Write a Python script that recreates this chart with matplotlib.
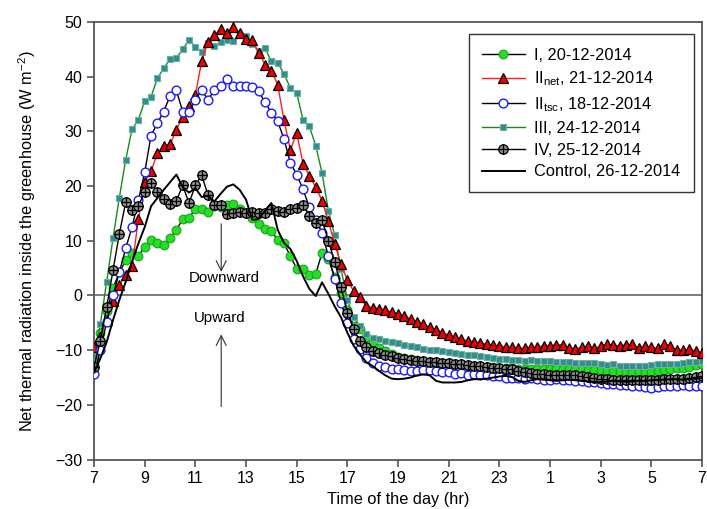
import numpy as np
import matplotlib
matplotlib.use("Agg")
import matplotlib.pyplot as plt
from matplotlib.path import Path

plt.rcParams['font.family'] = ['Liberation Sans', 'DejaVu Sans']
plt.rcParams['mathtext.fontset'] = 'custom'
plt.rcParams['mathtext.rm'] = 'Liberation Sans'

# time of day (hours, 7 .. 31 == 7 next morning), 15-min steps
time_hr = np.arange(7.0, 31.001, 0.25)

series_I = [-11.3, -6.8, -2.9, 1.4, 4.2, 6.4, 7.7, 7.2, 8.9, 10.2, 9.6, 9.2,
            10.5, 12.0, 13.9, 14.2, 15.8, 15.8, 15.3, 16.4, 16.2, 16.6, 16.8, 15.8,
            15.0, 14.1, 13.0, 12.1, 11.8, 10.1, 9.5, 7.2, 4.9, 4.9, 3.8, 3.9,
            7.8, 6.6, 3.4, 0.4, -2.6, -5.6, -6.2, -7.5, -8.5, -9.6, -10.2, -10.7,
            -11.2, -11.4, -11.6, -11.8, -12.0, -12.1, -12.2, -12.3, -12.5, -12.6, -12.7, -12.8,
            -12.9, -13.0, -13.1, -13.1, -13.2, -13.2, -13.3, -13.4, -13.4, -13.5, -13.5, -13.5,
            -13.5, -13.4, -13.4, -13.4, -13.4, -13.5, -13.6, -13.7, -13.7, -13.8, -13.8, -13.9,
            -14.0, -14.0, -14.0, -14.0, -13.9, -13.8, -13.7, -13.5, -13.3, -13.2, -13.0, -12.7,
            -12.5]

series_IInet = [-9.5, -7.5, -4.5, -1.0, 1.9, 3.8, 5.3, 13.9, 20.7, 22.7, 26.0, 27.3,
                27.6, 30.3, 32.7, 34.7, 36.7, 42.8, 46.4, 47.6, 48.7, 47.9, 49.0, 47.9,
                46.8, 46.6, 44.4, 42.2, 41.1, 38.5, 32.0, 26.6, 29.7, 24.1, 21.9, 19.8,
                17.3, 13.6, 9.4, 5.7, 2.8, 0.8, -0.2, -2.0, -2.2, -2.4, -2.7, -3.0,
                -3.4, -3.8, -4.3, -4.8, -5.3, -5.8, -6.3, -6.8, -7.2, -7.6, -8.0, -8.3,
                -8.5, -8.7, -8.9, -9.1, -9.2, -9.4, -9.5, -9.6, -9.6, -9.5, -9.4, -9.2,
                -9.2, -9.0, -9.0, -9.6, -9.7, -9.5, -9.3, -9.6, -9.3, -8.9, -9.1, -9.2,
                -9.0, -8.9, -9.6, -9.3, -9.5, -9.6, -8.8, -9.3, -9.9, -10.0, -9.8, -10.2,
                -10.5]

series_IItsc = [-14.4, -10.0, -4.8, 0.0, 4.3, 8.6, 12.5, 17.4, 22.5, 29.2, 31.5, 33.6,
                36.5, 37.5, 33.6, 33.6, 35.8, 37.5, 35.8, 37.5, 38.2, 39.5, 38.3, 38.2,
                38.2, 38.1, 37.3, 35.3, 33.4, 31.8, 28.6, 24.2, 22.1, 19.4, 16.1, 13.8,
                11.5, 7.2, 3.0, -1.3, -5.1, -7.9, -9.7, -11.4, -12.3, -12.8, -13.0, -13.4,
                -13.5, -13.7, -13.8, -13.8, -13.6, -13.6, -13.8, -14.0, -14.0, -14.3, -14.2, -14.5,
                -14.4, -14.5, -14.6, -14.7, -14.8, -15.0, -15.0, -15.1, -15.2, -15.1, -15.3, -15.4,
                -15.4, -15.3, -15.5, -15.5, -15.6, -15.7, -15.8, -15.8, -16.0, -16.1, -16.2, -16.3,
                -16.3, -16.5, -16.6, -16.8, -17.0, -16.8, -16.6, -16.5, -16.5, -16.4, -16.5, -16.6,
                -16.6]

series_III = [-11.0, -5.2, 2.5, 10.5, 17.9, 24.8, 30.4, 32.1, 35.5, 36.3, 39.7, 41.5,
              43.2, 43.4, 45.0, 46.7, 45.5, 44.5, 46.2, 45.6, 46.3, 46.6, 46.5, 47.6,
              47.4, 46.0, 44.6, 45.2, 42.8, 42.5, 40.5, 37.9, 37.0, 32.1, 30.9, 27.4,
              22.4, 15.5, 11.0, 4.8, -0.8, -4.0, -5.6, -7.1, -7.7, -8.0, -8.3, -8.5,
              -8.7, -9.0, -9.2, -9.4, -9.7, -9.9, -10.0, -10.2, -10.3, -10.5, -10.7, -10.8,
              -10.8, -11.0, -11.3, -11.5, -11.6, -11.6, -11.8, -11.8, -11.9, -11.8, -11.9, -12.0,
              -12.0, -12.1, -12.2, -12.2, -12.3, -12.3, -12.4, -12.4, -12.5, -12.7, -12.6, -12.8,
              -12.9, -12.8, -12.9, -12.8, -12.7, -12.6, -12.6, -12.6, -12.5, -12.4, -12.2, -12.1,
              -12.0]

series_IV = [-13.0, -8.3, -2.1, 4.6, 11.3, 17.0, 15.7, 16.3, 19.0, 20.6, 19.0, 17.6,
             16.7, 17.3, 20.1, 16.9, 20.1, 22.0, 18.3, 16.6, 16.6, 14.8, 15.0, 15.2,
             15.1, 15.2, 15.1, 15.1, 15.8, 15.5, 15.3, 15.8, 15.9, 16.6, 14.5, 13.3,
             13.8, 10.0, 6.2, 1.6, -3.2, -6.2, -8.3, -9.4, -10.2, -10.6, -10.9, -11.1,
             -11.4, -11.6, -11.8, -11.9, -12.0, -12.1, -12.2, -12.3, -12.4, -12.5, -12.6, -12.7,
             -12.8, -12.9, -13.0, -13.2, -13.3, -13.4, -13.5, -13.8, -14.0, -14.2, -14.3, -14.4,
             -14.5, -14.5, -14.6, -14.6, -14.6, -14.8, -14.9, -15.0, -15.2, -15.3, -15.4, -15.4,
             -15.5, -15.5, -15.5, -15.4, -15.4, -15.4, -15.3, -15.3, -15.3, -15.2, -15.1, -14.9,
             -14.8]

series_control = [-14.1, -11.5, -8.5, -4.5, -0.8, 2.5, 6.2, 9.5, 12.5, 16.3, 17.8, 19.3,
                  20.7, 22.1, 19.8, 18.8, 19.6, 18.0, 18.2, 17.2, 18.6, 19.9, 20.3, 19.3,
                  17.5, 13.8, 14.0, 15.5, 16.9, 12.0, 9.6, 8.5, 6.3, 3.5, 1.2, -0.1,
                  2.4, 0.3, -2.0, -4.0, -6.8, -9.2, -10.8, -12.2, -12.9, -13.8, -14.6, -15.2,
                  -15.3, -15.2, -15.0, -14.6, -14.4, -14.6, -15.6, -15.9, -15.9, -15.9, -15.8, -15.5,
                  -15.3, -15.3, -15.2, -15.0, -14.8, -14.7, -14.9, -15.6, -15.8, -15.5, -15.3, -15.4,
                  -15.5, -15.6, -15.5, -15.4, -15.5, -15.6, -15.7, -15.8, -15.8, -15.7, -15.6, -15.7,
                  -15.8, -15.7, -15.6, -15.6, -15.5, -15.4, -15.4, -15.3, -15.3, -15.4, -15.3, -15.2,
                  -15.1]

labels = ['I, 20-12-2014',
          r'II$_\mathregular{net}$, 21-12-2014',
          r'II$_\mathregular{tsc}$, 18-12-2014',
          'III, 24-12-2014',
          'IV, 25-12-2014',
          'Control, 26-12-2014']

xticks = [7, 9, 11, 13, 15, 17, 19, 21, 23, 25, 27, 29, 31]
xticklabels = ['7', '9', '11', '13', '15', '17', '19', '21', '23', '1', '3', '5', '7']
yticks = [-30, -20, -10, 0, 10, 20, 30, 40, 50]

# circle-with-plus marker
circ = Path.unit_circle()
cross = Path([(-1, 0), (1, 0), (0, -1), (0, 1)],
             [Path.MOVETO, Path.LINETO, Path.MOVETO, Path.LINETO])
oplus = Path.make_compound_path(circ, cross)

fig = plt.figure(figsize=(7.07, 5.09), dpi=100)
ax = fig.add_axes([0.133, 0.097, 0.860, 0.860])

h1, = ax.plot(time_hr, series_I, '-', color='black', lw=1.0, marker='o', ms=6.3,
              mfc='#22e022', mec='#20a020', mew=0.8, zorder=3)
h3, = ax.plot(time_hr, series_III, '-', color='#1a8a1a', lw=1.0, marker='s', ms=5.0,
              mfc='#2e8f8f', mec='#6fb0a0', mew=0.8, zorder=4)
h2, = ax.plot(time_hr, series_IInet, '-', color='#ff2020', lw=1.0, marker='^', ms=6.5,
              mfc='#ee0000', mec='black', mew=0.9, zorder=5)
h2b, = ax.plot(time_hr, series_IItsc, '-', color='black', lw=1.0, marker='o', ms=6.3,
               mfc='white', mec='#1a1aff', mew=1.0, zorder=6)
h4, = ax.plot(time_hr, series_IV, '-', color='black', lw=1.0, marker=oplus, ms=6.8,
              mfc='#8c8c8c', mec='black', mew=0.9, zorder=7)
h5, = ax.plot(time_hr, series_control, '-', color='black', lw=1.4, zorder=8)

ax.axhline(0, color='#666666', lw=1.2, zorder=2)

# annotations
ax.annotate('', xy=(12.02, 3.8), xytext=(12.02, 13.6),
            arrowprops=dict(arrowstyle='->', color='#333333', lw=0.8,
                            mutation_scale=18))
ax.text(12.15, 3.2, 'Downward', ha='center', va='center', fontsize=10.8)
ax.annotate('', xy=(12.02, -6.6), xytext=(12.02, -20.8),
            arrowprops=dict(arrowstyle='->', color='#333333', lw=0.8,
                            mutation_scale=18))
ax.text(11.95, -4.2, 'Upward', ha='center', va='center', fontsize=10.8)

ax.set_xlim(7, 31)
ax.set_ylim(-30, 50)
ax.set_xticks(xticks)
ax.set_xticklabels(xticklabels)
ax.set_yticks(yticks)
ax.tick_params(direction='out', length=5, width=1.2, color='#555555', labelsize=11.5)
for s in ax.spines.values():
    s.set_color('#555555')
    s.set_linewidth(1.3)

ax.set_xlabel('Time of the day (hr)', fontsize=11.8, labelpad=4)
ax.set_ylabel(r'Net thermal radiation inside the greenhouse (W m$^{\mathregular{-2}}$)',
              fontsize=11.8, labelpad=12)

leg = ax.legend([h1, h2, h2b, h3, h4, h5], labels, loc='upper right',
                bbox_to_anchor=(1.0, 0.99), fontsize=11.8, frameon=True,
                fancybox=False, edgecolor='black', handlelength=2.6,
                labelspacing=0.42, borderpad=0.8, handletextpad=0.6)
leg.get_frame().set_linewidth(1.0)

fig.savefig('out.png', dpi=100)
